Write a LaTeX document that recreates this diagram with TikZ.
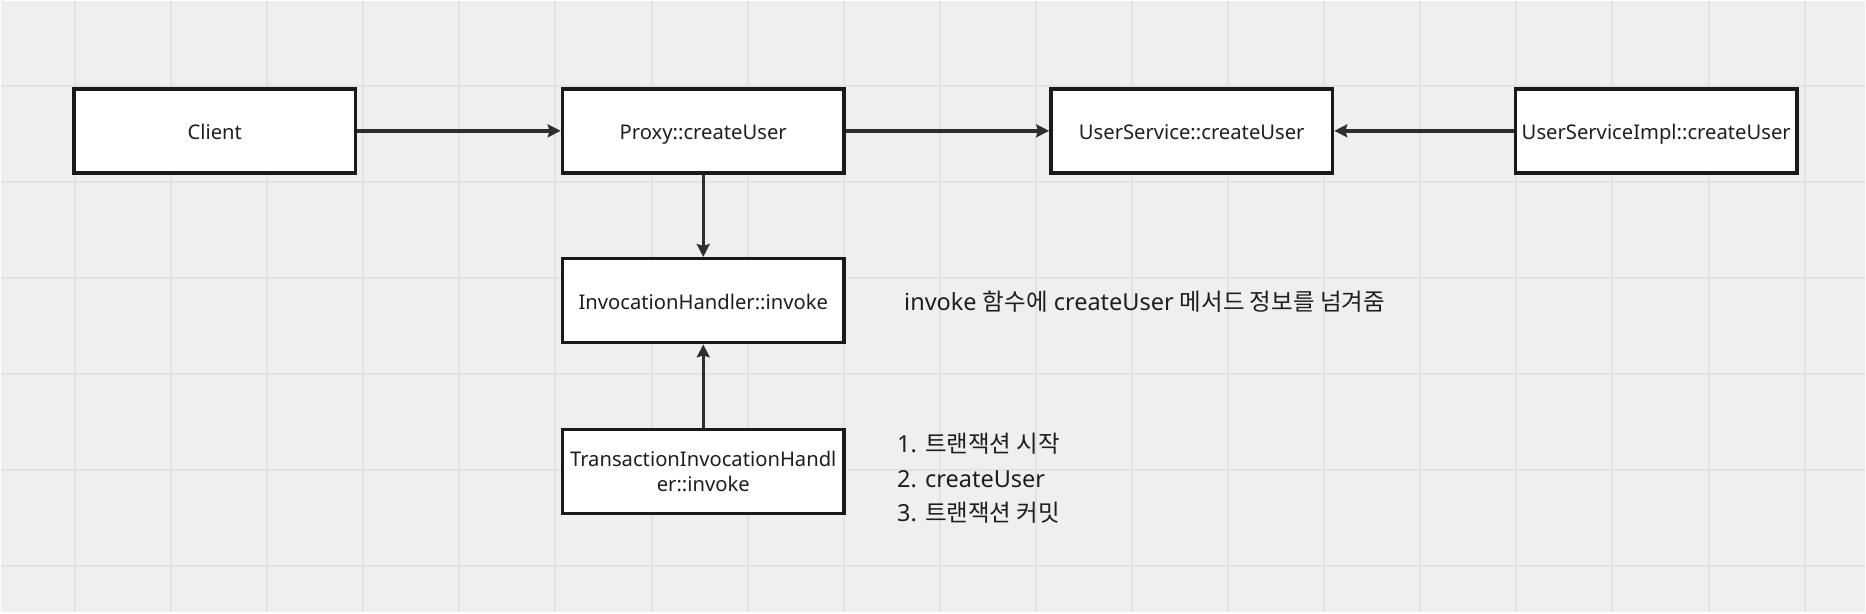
\documentclass[tikz,border=0pt]{standalone}
\usepackage{fontspec}
\setmainfont{Noto Sans}
\newfontfamily\krfont{Noto Sans CJK KR}
\usetikzlibrary{arrows.meta}
\definecolor{boardbg}{HTML}{EFEFEF}
\definecolor{boardgrid}{HTML}{E2E2E2}
\definecolor{boxline}{HTML}{1A1A1A}
\definecolor{callline}{HTML}{2E2E2E}
\definecolor{inktext}{HTML}{1E1E1E}
\tikzset{
  classbox/.style={draw=boxline,fill=white,line width=3.5bp,rectangle,
    minimum width=282bp,minimum height=84bp,inner sep=0pt,align=center,
    text=inktext,font=\fontsize{20.3}{26}\selectfont},
  onerow/.style={classbox,text height=19bp,text depth=1bp},
  call/.style={-{Stealth[length=13bp,width=13bp,inset=2bp]},draw=callline,line width=3.4bp},
  memo/.style={anchor=west,align=left,inner sep=0pt,text=inktext,
    font=\fontsize{23.6}{34.5}\selectfont},
}
\begin{document}
\begin{tikzpicture}[>=latex,line join=miter]
    %%
    \fill [boardbg] (0bp,0bp) rectangle (1866bp,612bp);
    \foreach \k in {0,...,18}
      \draw [boardgrid,line width=2bp] ({(74+96.2*\k)*1bp},0bp) -- ({(74+96.2*\k)*1bp},612bp);
    \foreach \k in {0,...,5}
      \draw [boardgrid,line width=2bp] (0bp,{(612-85-96.2*\k)*1bp}) -- (1866bp,{(612-85-96.2*\k)*1bp});
    %%
    \node (client) at (214bp,482bp) [onerow] {Client};
    \node (proxy) at (703bp,482bp) [onerow] {Proxy::createUser};
    \node (service) at (1192bp,482bp) [onerow] {UserService::createUser};
    \node (impl) at (1657bp,482bp) [onerow] {UserServiceImpl::createUser};
    \node (handler) at (703bp,312bp) [onerow] {InvocationHandler::invoke};
    \node (txhandler) at (703bp,141bp) [classbox] {TransactionInvocationHandl\\er::invoke};
    \node (passnote) at (904bp,311bp) [memo] {invoke {\krfont 함수에} createUser {\krfont 메서드 정보를 넘겨줌}};
    \node (txnote) at (897bp,134bp) [memo] {1. {\krfont 트랜잭션 시작}\\2. createUser\\3. {\krfont 트랜잭션 커밋}};
    %
    \draw [call] (client) -- (proxy);
    \draw [call] (proxy) -- (service);
    \draw [call] (impl) -- (service);
    \draw [call] (proxy) -- (handler);
    \draw [call] (txhandler) -- (handler);
    %
\end{tikzpicture}
\end{document}
